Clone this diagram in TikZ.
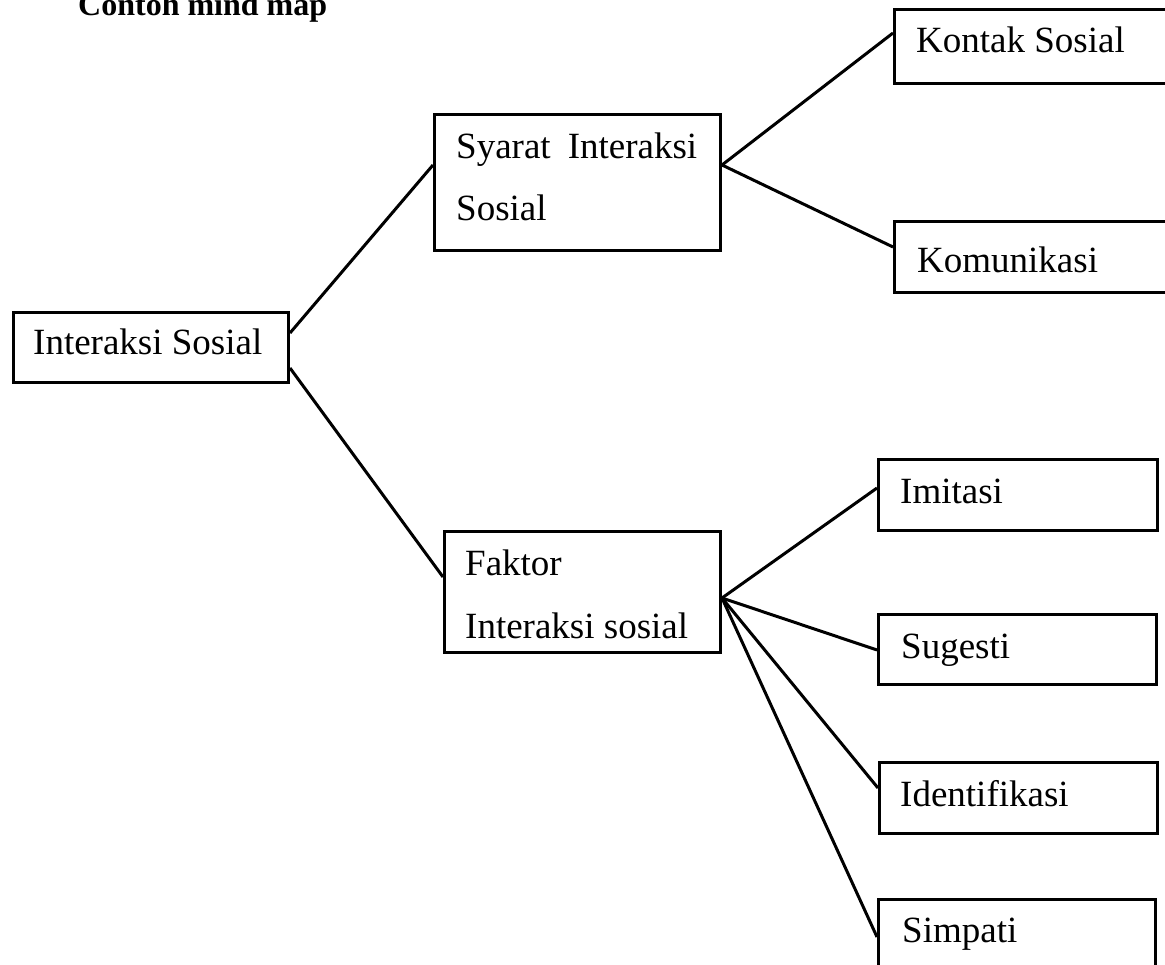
\documentclass[tikz,border=0pt]{standalone}
\usepackage{fontspec}
\setmainfont{Liberation Serif}
\begin{document}
\begin{tikzpicture}[x=1pt,y=-1pt,
  box/.style={draw=black, line width=3pt, rectangle, inner sep=0pt, anchor=north west, fill=none},
  lbl/.style={anchor=base west, inner sep=0pt, font=\fontsize{37}{44}\selectfont},
  conn/.style={draw=black, line width=3pt}]
\useasboundingbox (0,0) rectangle (1165,965);
% title
\node[anchor=base west, inner sep=0pt, font=\fontsize{32}{38}\selectfont\bfseries] (title) at (78,16) {Contoh mind map};
% boxes
\node[box, minimum width=275pt, minimum height=70pt] (intr) at (12,311) {};
\node[box, minimum width=286pt, minimum height=136pt] (syarat) at (433,113) {};
\node[box, minimum width=276pt, minimum height=121pt] (faktor) at (443,530) {};
\node[box, minimum width=290pt, minimum height=74pt] (kontak) at (893,8) {};
\node[box, minimum width=290pt, minimum height=71pt] (komun) at (893,220) {};
\node[box, minimum width=279pt, minimum height=71pt] (imit) at (877,458) {};
\node[box, minimum width=278pt, minimum height=70pt] (sug) at (877,613) {};
\node[box, minimum width=278pt, minimum height=71pt] (ident) at (878,761) {};
\node[box, minimum width=277pt, minimum height=90pt] (simp) at (877,898) {};
% labels
\node[lbl] (tintr) at (33,355) {Interaksi Sosial};
\node[lbl] (tsy1) at (456,159) {\makebox[241pt][s]{Syarat Interaksi}};
\node[lbl] (tsy2) at (456,221) {Sosial};
\node[lbl] (tfk1) at (465,575) {Faktor};
\node[lbl] (tfk2) at (465,638) {Interaksi sosial};
\node[lbl] (tkon) at (916,53) {Kontak Sosial};
\node[lbl] (tkom) at (917,273) {Komunikasi};
\node[lbl] (timi) at (900,503) {Imitasi};
\node[lbl] (tsug) at (901,658) {Sugesti};
\node[lbl] (tide) at (900,806) {Identifikasi};
\node[lbl] (tsim) at (902,942) {Simpati};
% connectors
\draw[conn] ([yshift=-22pt]intr.north east) -- ([yshift=-52pt]syarat.north west);
\draw[conn] ([yshift=-57pt]intr.north east) -- ([yshift=-47pt]faktor.north west);
\draw[conn] ([yshift=-52pt]syarat.north east) -- ([yshift=-25pt]kontak.north west);
\draw[conn] ([yshift=-52pt]syarat.north east) -- ([yshift=-27pt]komun.north west);
\draw[conn] ([yshift=-68pt]faktor.north east) -- ([yshift=-30pt]imit.north west);
\draw[conn] ([yshift=-68pt]faktor.north east) -- ([yshift=-37pt]sug.north west);
\draw[conn] ([yshift=-68pt]faktor.north east) -- ([yshift=-27pt]ident.north west);
\draw[conn] ([yshift=-68pt]faktor.north east) -- ([yshift=-39pt]simp.north west);
\end{tikzpicture}
\end{document}
